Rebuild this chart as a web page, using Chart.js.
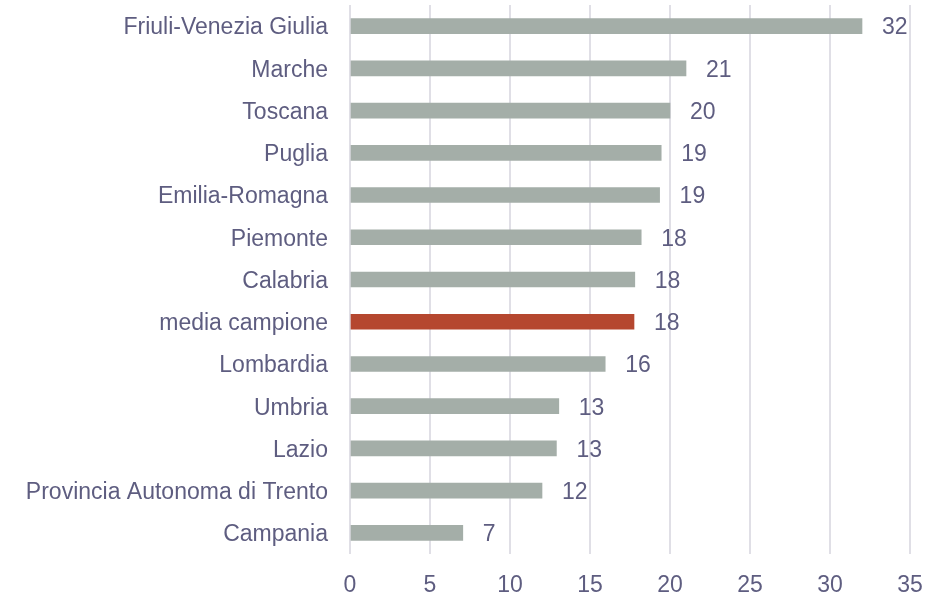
<!DOCTYPE html>
<html>
<head>
<meta charset="utf-8">
<script src="https://cdn.jsdelivr.net/npm/chart.js@4"></script>
<style>
  html, body { margin: 0; padding: 0; background: #fff; }
  #wrap { width: 942px; height: 597px; }
</style>
</head>
<body>
<div id="wrap"><canvas id="chart" width="942" height="597"></canvas></div>
<script>
const ctx = document.getElementById("chart").getContext("2d");

// Regions, sorted by value
const regions = [
  "Friuli-Venezia Giulia", "Marche", "Toscana", "Puglia", "Emilia-Romagna",
  "Piemonte", "Calabria", "media campione", "Lombardia", "Umbria", "Lazio",
  "Provincia Autonoma di Trento", "Campania"
];
const values = [32, 21, 20, 19.45, 19.35, 18.2, 17.8, 17.75, 15.95, 13.05, 12.9, 12, 7.05];
const xTicks = [0, 5, 10, 15, 20, 25, 30, 35];

const barGrey = "#a4aea8";
const barRed = "#b5472f";
const textColor = "#5e5d80";
const fontFamily = "'Liberation Sans', Arial, sans-serif";

const colors = regions.map(r => r === "media campione" ? barRed : barGrey);

// Value labels at the end of each bar
const valueLabels = {
  id: "valueLabels",
  afterDatasetsDraw(chart) {
    const c = chart.ctx;
    const meta = chart.getDatasetMeta(0);
    c.save();
    c.font = "23px " + fontFamily;
    c.fillStyle = textColor;
    c.textAlign = "left";
    c.textBaseline = "middle";
    meta.data.forEach((bar, i) => {
      c.fillText(String(Math.round(values[i])), bar.x + 20, bar.y + 2);
    });
    c.restore();
  }
};

new Chart(ctx, {
  type: "bar",
  data: {
    labels: regions,
    datasets: [{
      data: values,
      backgroundColor: colors,
      barThickness: 15
    }]
  },
  options: {
    indexAxis: "y",
    responsive: false,
    animation: false,
    layout: { padding: { top: 5, right: 32, left: 0, bottom: 0 } },
    plugins: {
      legend: { display: false },
      tooltip: { enabled: false }
    },
    scales: {
      x: {
        min: 0,
        max: 35,
        afterBuildTicks: scale => { scale.ticks = xTicks.map(v => ({ value: v })); },
        grid: { color: "#e0dfe6", lineWidth: 2, drawTicks: false },
        border: { display: false },
        ticks: {
          color: textColor,
          font: { family: fontFamily, size: 23 },
          padding: 18
        },
        afterFit: scale => {
          scale.height = 43;
          scale.paddingLeft = 0;
          scale.paddingRight = 0;
        }
      },
      y: {
        grid: { display: false, drawTicks: false },
        border: { display: false },
        ticks: {
          color: textColor,
          font: { family: fontFamily, size: 23 },
          padding: 22,
          labelOffset: 2
        },
        afterFit: scale => {
          scale.width = 350;
          scale.paddingTop = 0;
          scale.paddingBottom = 0;
        }
      }
    }
  },
  plugins: [valueLabels]
});
</script>
</body>
</html>
